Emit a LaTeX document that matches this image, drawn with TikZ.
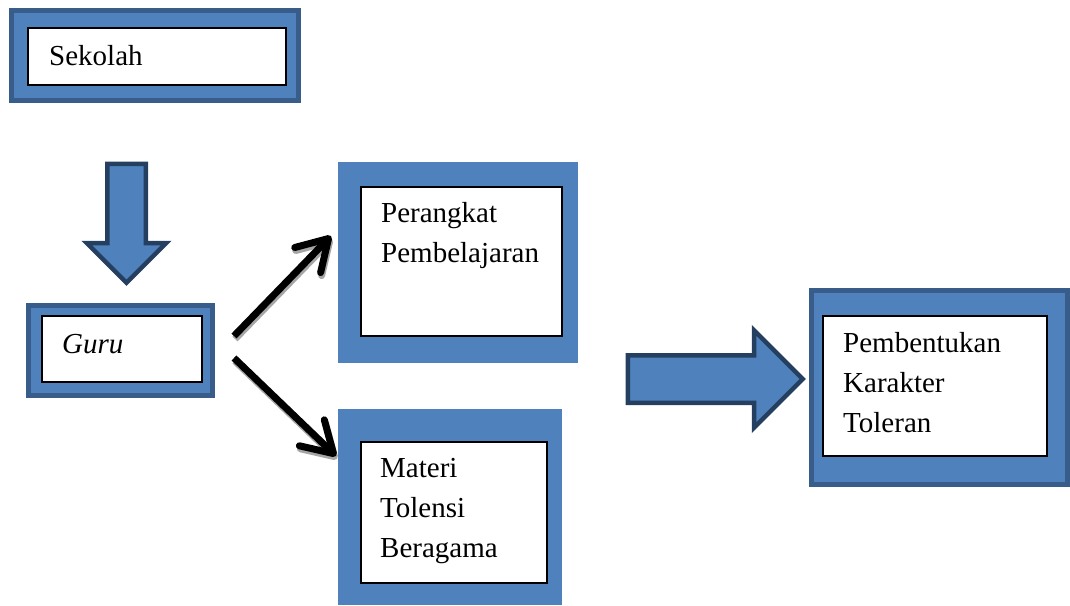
\documentclass[tikz,border=0pt]{standalone}
\usepackage{fontspec}
\setmainfont{Liberation Serif}
\usetikzlibrary{positioning}
\usetikzlibrary{shapes.arrows}
\usetikzlibrary{arrows.meta}

\definecolor{boxblue}{HTML}{4F81BD}
\definecolor{boxframe}{HTML}{385D8A}
\definecolor{arrowframe}{HTML}{243F60}

\begin{document}
\begin{tikzpicture}[x=1pt, y=-1pt,
                          bluebox/.style={rectangle, fill=boxblue, inner sep=0pt},
                          bluebox_framed/.style={bluebox, draw=boxframe, line width=5pt},
                          whitebox/.style={rectangle, draw=black, fill=white, line width=1.3pt, inner sep=0pt},
                          boxtext/.style={anchor=base west, inner sep=0pt, align=left, font=\fontsize{29}{40}\selectfont},
                          blockarrow/.style={single arrow, draw=arrowframe, fill=boxblue, line width=4.5pt, inner xsep=0pt, single arrow head indent=0pt},
                          pointer/.style={line width=7pt, -{Straight Barb[length=30pt, width=36pt, round]}},
                          pointer_shadow/.style={pointer, draw=black!35, transform canvas={shift={(1pt,-3pt)}}},
                      ]
                      \useasboundingbox (0,0) rectangle (1070,605);

                      %Nodes
                      \node[bluebox_framed, minimum width=287pt, minimum height=90pt]  (sekolah)       at (155,55.5)    {};
                      \node[whitebox, minimum width=258pt, minimum height=57pt]        (sekolah_in)    at (157,56.5)    {};
                      \node[bluebox_framed, minimum width=184pt, minimum height=90pt]  (guru)          at (120.5,350.5) {};
                      \node[whitebox, minimum width=160pt, minimum height=66pt]        (guru_in)       at (122,349)     {};
                      \node[bluebox, minimum width=240pt, minimum height=201pt]        (perangkat)     at (458,262.5)   {};
                      \node[whitebox, minimum width=201pt, minimum height=149pt]       (perangkat_in)  at (461.5,261.5) {};
                      \node[bluebox, minimum width=224pt, minimum height=196pt]        (materi)        at (450,507)     {};
                      \node[whitebox, minimum width=186pt, minimum height=141pt]       (materi_in)     at (454,512.5)   {};
                      \node[bluebox_framed, minimum width=256pt, minimum height=194pt] (karakter)      at (939.5,387.5) {};
                      \node[whitebox, minimum width=224pt, minimum height=140pt]       (karakter_in)   at (935,386)     {};

                      %Texts (anchored at the last baseline)
                      \node[boxtext] (sekolah_label)   at (49,65)   {Sekolah};
                      \node[boxtext] (guru_label)      at (62,353)  {\itshape Guru};
                      \node[boxtext] (perangkat_label) at (381,262) {Perangkat\\Pembelajaran};
                      \node[boxtext] (materi_label)    at (380,557) {Materi\\Tolensi\\Beragama};
                      \node[boxtext] (karakter_label)  at (843,432) {Pembentukan\\Karakter\\Toleran};

                      %Block arrows
                      \node[blockarrow, rotate=-90, minimum height=119pt, inner ysep=17pt, single arrow head extend=20.5pt, anchor=tail] (arrow_down)  at (126.5,161.5) {};
                      \node[blockarrow, minimum height=175pt, inner ysep=21.5pt, single arrow head extend=25pt, anchor=tail]             (arrow_right) at (625.5,379)   {};

                      %Lines
                      \coordinate (guru_up)       at (234,336);
                      \coordinate (perangkat_tip) at (331,236);
                      \coordinate (guru_down)     at (234,358);
                      \coordinate (materi_tip)    at (336,456);
                      \draw[pointer_shadow] (guru_up) -- (perangkat_tip);
                      \draw[pointer_shadow] (guru_down) -- (materi_tip);
                      \draw[pointer] (guru_up) -- (perangkat_tip);
                      \draw[pointer] (guru_down) -- (materi_tip);
                  \end{tikzpicture}
\end{document}
